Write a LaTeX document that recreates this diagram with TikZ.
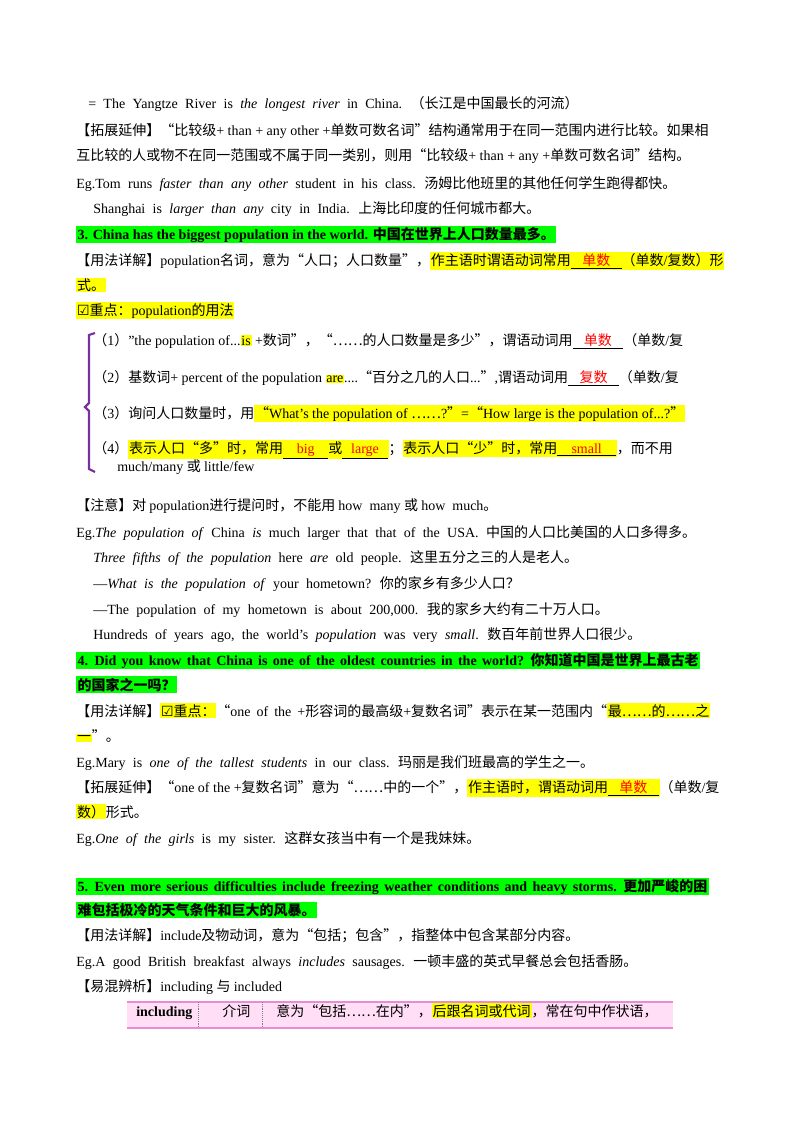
\documentclass[tikz,border=0pt]{standalone}
\usepackage{fontspec}
\setmainfont{Liberation Serif}
\newfontfamily\cjk{Noto Sans CJK SC}
\newfontfamily\symb{DejaVu Sans}
\usepackage{xcolor}
% switch fonts between latin and cjk characters
\XeTeXinterchartokenstate=1
\newXeTeXintercharclass\cjkcls
\newXeTeXintercharclass\symcls
\newcount\cc
\cc="4E00 \loop \XeTeXcharclass\cc=\cjkcls \advance\cc by 1 \ifnum\cc<"A000 \repeat
\cc="3000 \loop \XeTeXcharclass\cc=\cjkcls \advance\cc by 1 \ifnum\cc<"3040 \repeat
\cc="FF00 \loop \XeTeXcharclass\cc=\cjkcls \advance\cc by 1 \ifnum\cc<"FFF0 \repeat
\XeTeXcharclass"201C=\cjkcls \XeTeXcharclass"201D=\cjkcls \XeTeXcharclass"2026=\cjkcls
\XeTeXcharclass"2611=\symcls
\XeTeXinterchartoks 0 \cjkcls = {\cjk}
\XeTeXinterchartoks 4095 \cjkcls = {\cjk}
\XeTeXinterchartoks \symcls \cjkcls = {\cjk}
\XeTeXinterchartoks \cjkcls 0 = {\rmfamily}
\XeTeXinterchartoks 4095 0 = {\rmfamily}
\XeTeXinterchartoks 4095 \symcls = {\symb}
\definecolor{hlgreen}{RGB}{0,255,0}
\definecolor{hlyellow}{RGB}{255,255,0}
\definecolor{brk}{RGB}{120,50,160}
\definecolor{rowpink}{RGB}{255,222,246}
\definecolor{rowline}{RGB}{232,140,214}
\setlength{\fboxsep}{0.6pt}
\newcommand{\hy}[1]{\colorbox{hlyellow}{#1}}
\newcommand{\blank}[2]{\underline{\makebox[#1]{\textcolor{red}{#2}}}}
\newcommand{\ck}{☑}
\newcommand{\widesp}[1]{\spaceskip=#1 plus 1pt\relax}

\begin{document}
\begin{tikzpicture}[x=0.75pt,y=-0.75pt,font=\fontsize{10.5}{12}\selectfont]
    \tikzstyle{ln}=[anchor=base west,inner sep=0pt]
    \tikzstyle{wide}=[ln,font=\fontsize{10.5}{12}\selectfont\widesp{5.5pt}]
    \tikzstyle{head}=[ln,fill=hlgreen,inner sep=1pt,font=\fontsize{10.5}{12}\selectfont\bfseries]
    \useasboundingbox (0,0) rectangle (800,1132);
    \node[wide] (l01) at (88,108) {= The Yangtze River is \textit{the longest river} in China. （长江是中国最长的河流）};
    \node[ln] (l02) at (76,135) {【拓展延伸】“比较级+ than + any other +单数可数名词”结构通常用于在同一范围内进行比较。如果相};
    \node[ln] (l03) at (76,160) {互比较的人或物不在同一范围或不属于同一类别，则用“比较级+ than + any +单数可数名词”结构。};
    \node[wide] (l04) at (76,188) {Eg.Tom runs \textit{faster than any other} student in his class. 汤姆比他班里的其他任何学生跑得都快。};
    \node[wide] (l05) at (93,213) {Shanghai is \textit{larger than any} city in India. 上海比印度的任何城市都大。};
    \node[head] (h3) at (76,239) {3. China has the biggest population in the world. 中国在世界上人口数量最多。};
    \node[ln] (l06) at (76,265) {【用法详解】population名词，意为“人口；人口数量”，\hy{作主语时谓语动词常用\blank{38pt}{单数}（单数/复数）形}};
    \node[ln] (l07) at (76,290) {\hy{式。}};
    \node[ln] (l08) at (76,315) {\hy{\ck 重点：population的用法}};
    \node[ln] (p1) at (93,345) {（1）"the population of...\hy{is} +数词”，“……的人口数量是多少”，谓语动词用\blank{38pt}{单数}（单数/复};
    \node[ln] (p2) at (93,382) {（2）基数词+ percent of the population \hy{are}....“百分之几的人口...”,谓语动词用\blank{38pt}{复数}（单数/复};
    \node[ln] (p3) at (93,418) {（3）询问人口数量时，用\hy{“What’s the population of ……?”=“How large is the population of...?”}};
    \node[ln] (p4) at (93,453) {（4）\hy{表示人口“多”时，常用\blank{34pt}{big}或\blank{34pt}{large}}；\hy{表示人口“少”时，常用\blank{44pt}{small}}，而不用};
    \node[ln] (p4b) at (117,471) {much/many 或 little/few};
    \draw[brk,line width=1.6pt] (95,333) -- (89,335) -- (89,403) -- (85,407) -- (89,411) -- (89,469) -- (95,472);
    \node[ln] (l09) at (76,510) {【注意】对 population进行提问时，不能用 how\ \ many 或 how\ \ much。};
    \node[wide] (l10) at (76,537) {Eg.\textit{The population of} China \textit{is} much larger that that of the USA. 中国的人口比美国的人口多得多。};
    \node[wide] (l11) at (93,562) {\textit{Three fifths of the population} here \textit{are} old people. 这里五分之三的人是老人。};
    \node[wide] (l12) at (93,588) {—\textit{What is the population of} your hometown? 你的家乡有多少人口？};
    \node[wide] (l13) at (93,614) {—The population of my hometown is about 200,000. 我的家乡大约有二十万人口。};
    \node[wide] (l14) at (93,639) {Hundreds of years ago, the world’s \textit{population} was very \textit{small}. 数百年前世界人口很少。};
    \node[head,font=\fontsize{10.5}{12}\selectfont\bfseries\widesp{4pt}] (h4) at (76,665) {4. Did you know that China is one of the oldest countries in the world? 你知道中国是世界上最古老};
    \node[head] (h4b) at (76,690) {的国家之一吗？};
    \node[ln,font=\fontsize{10.5}{12}\selectfont\widesp{4.5pt}] (l15) at (76,716) {【用法详解】\hy{\ck 重点：}“one of the +形容词的最高级+复数名词”表示在某一范围内“\hy{最……的……之}};
    \node[ln] (l16) at (76,741) {\hy{一}”。};
    \node[wide] (l17) at (76,767) {Eg.Mary is \textit{one of the tallest students} in our class. 玛丽是我们班最高的学生之一。};
    \node[ln] (l18) at (76,792) {【拓展延伸】“one of the +复数名词”意为“……中的一个”，\hy{作主语时，谓语动词用\blank{38pt}{单数}}（单数/复};
    \node[ln] (l19) at (76,817) {\hy{数）}形式。};
    \node[wide] (l20) at (76,843) {Eg.\textit{One of the girls} is my sister. 这群女孩当中有一个是我妹妹。};
    \node[head,font=\fontsize{10.5}{12}\selectfont\bfseries\widesp{4pt}] (h5) at (76,891) {5. Even more serious difficulties include freezing weather conditions and heavy storms. 更加严峻的困};
    \node[head] (h5b) at (76,915) {难包括极冷的天气条件和巨大的风暴。};
    \node[ln] (l21) at (76,940) {【用法详解】include及物动词，意为“包括；包含”，指整体中包含某部分内容。};
    \node[wide] (l22) at (76,966) {Eg.A good British breakfast always \textit{includes} sausages. 一顿丰盛的英式早餐总会包括香肠。};
    \node[ln] (l23) at (76,991) {【易混辨析】including 与 included};
    % table row
    \fill[rowpink] (127,1002) rectangle (673,1028);
    \draw[rowline,line width=1.2pt] (127,1002) -- (673,1002) (127,1028) -- (673,1028);
    \draw[gray,densely dotted] (198,1002) -- (198,1028) (262,1002) -- (262,1028);
    \node[ln,font=\fontsize{10.5}{12}\selectfont\bfseries] (t1) at (136,1016) {including};
    \node[ln] (t2) at (222,1016) {介词};
    \node[ln] (t3) at (276,1016) {意为“包括……在内”，\hy{后跟名词或代词}，常在句中作状语，};
\end{tikzpicture}
\end{document}
